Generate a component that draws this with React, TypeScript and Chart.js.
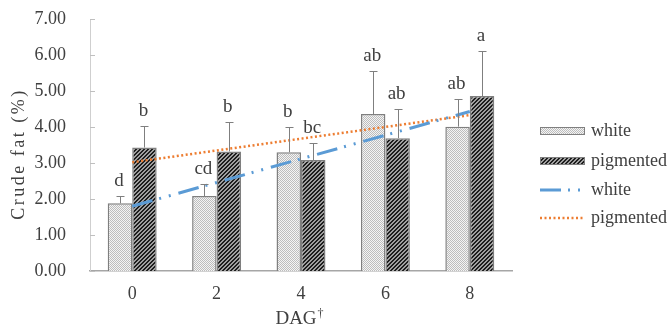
import React, { useEffect, useRef } from "react";
import { Chart, registerables } from "chart.js";

Chart.register(...registerables);

const categories = ["0", "2", "4", "6", "8"];
const whiteMeans = [1.88, 2.08, 3.3, 4.36, 4.01];
const whiteErr = [0.21, 0.33, 0.69, 1.19, 0.77];
const pigMeans = [3.43, 3.32, 3.08, 3.69, 4.86];
const pigErr = [0.61, 0.81, 0.48, 0.8, 1.24];
const whiteLetters = ["d", "cd", "b", "ab", "ab"];
const pigLetters = ["b", "b", "bc", "ab", "a"];
const whiteTrend = [1.8, null, null, null, 4.43];
const pigTrend = [3.02, null, null, null, 4.33];
const legendLabels = ["white", "pigmented", "white", "pigmented"];
const yTitle = "Crude fat (%)";
const xTitle = "DAG";

const FONT = "'Liberation Serif', 'Times New Roman', serif";
const TEXT = "#404040";
const BLUE = "#5b9bd5";
const ORANGE = "#ed7d31";
const BLUE_DASH = [21, 7, 2, 8, 2, 8];
const ORANGE_DASH = [2, 2.5];

function makeWhitePattern(ctx: CanvasRenderingContext2D) {
  const c = document.createElement("canvas");
  c.width = 2;
  c.height = 2;
  const g = c.getContext("2d")!;
  g.fillStyle = "#f4f4f4";
  g.fillRect(0, 0, 2, 2);
  g.fillStyle = "#bdbdbd";
  g.fillRect(0, 0, 1, 1);
  g.fillRect(1, 1, 1, 1);
  return ctx.createPattern(c, "repeat")!;
}

function makePigPattern(ctx: CanvasRenderingContext2D) {
  const c = document.createElement("canvas");
  c.width = 4;
  c.height = 4;
  const g = c.getContext("2d")!;
  for (let x = 0; x < 4; x++) {
    for (let y = 0; y < 4; y++) {
      const k = (x + y) % 4;
      g.fillStyle = k === 0 || k === 1 ? "#1e1e1e" : "#a0a0a0";
      g.fillRect(x, y, 1, 1);
    }
  }
  return ctx.createPattern(c, "repeat")!;
}

export default function App() {
  const ref = useRef<HTMLCanvasElement | null>(null);

  useEffect(() => {
    const canvas = ref.current!;
    const ctx0 = canvas.getContext("2d")!;
    const whitePat = makeWhitePattern(ctx0);
    const pigPat = makePigPattern(ctx0);

    const overlay = {
      id: "overlay",
      afterDatasetsDraw(chart: any) {
        const ctx = chart.ctx;
        const y = chart.scales.y;
        const sets = [
          { idx: 0, means: whiteMeans, errs: whiteErr, letters: whiteLetters },
          { idx: 1, means: pigMeans, errs: pigErr, letters: pigLetters },
        ];
        ctx.save();
        for (const s of sets) {
          const meta = chart.getDatasetMeta(s.idx);
          meta.data.forEach((bar: any, i: number) => {
            const top = y.getPixelForValue(s.means[i] + s.errs[i]);
            const base = y.getPixelForValue(s.means[i]);
            ctx.strokeStyle = "#7f7f7f";
            ctx.lineWidth = 1;
            ctx.setLineDash([]);
            ctx.beginPath();
            ctx.moveTo(Math.round(bar.x) + 0.5, base);
            ctx.lineTo(Math.round(bar.x) + 0.5, Math.round(top) + 0.5);
            ctx.moveTo(Math.round(bar.x) - 3.5, Math.round(top) + 0.5);
            ctx.lineTo(Math.round(bar.x) + 4.5, Math.round(top) + 0.5);
            ctx.stroke();
            ctx.fillStyle = TEXT;
            ctx.font = `19px ${FONT}`;
            ctx.textAlign = "center";
            ctx.textBaseline = "alphabetic";
            ctx.fillText(s.letters[i], bar.x - 1, top - 10);
          });
        }
        ctx.restore();
      },
      afterDraw(chart: any) {
        const ctx = chart.ctx;
        const area = chart.chartArea;
        const y = chart.scales.y;
        ctx.save();
        // inward y ticks
        ctx.strokeStyle = "#bfbfbf";
        ctx.lineWidth = 1;
        y.ticks.forEach((t: any) => {
          const py = Math.round(y.getPixelForValue(t.value)) + 0.5;
          ctx.beginPath();
          ctx.moveTo(area.left, py);
          ctx.lineTo(area.left + 5, py);
          ctx.stroke();
        });
        // y title
        ctx.fillStyle = TEXT;
        ctx.font = `18px ${FONT}`;
        (ctx as any).letterSpacing = "2.5px";
        ctx.translate(24, 154);
        ctx.rotate(-Math.PI / 2);
        ctx.textAlign = "center";
        ctx.textBaseline = "alphabetic";
        ctx.fillText(yTitle, 0, 0);
        ctx.restore();

        ctx.save();
        ctx.fillStyle = TEXT;
        ctx.font = `19px ${FONT}`;
        ctx.textAlign = "left";
        ctx.textBaseline = "alphabetic";
        const w = ctx.measureText(xTitle).width;
        const x0 = 300 - (w + 8) / 2;
        ctx.fillText(xTitle, x0, 324);
        ctx.font = `12px ${FONT}`;
        ctx.fillText("\u2020", x0 + w + 1, 317);

        // legend
        const lx = 540;
        const rows = [131, 161, 190, 218];
        ctx.font = `18px ${FONT}`;
        ctx.textBaseline = "middle";
        ctx.fillStyle = TEXT;
        rows.forEach((ry, i) => {
          ctx.fillText(legendLabels[i], 591, ry);
        });
        ctx.strokeStyle = "#7f7f7f";
        ctx.lineWidth = 1;
        ctx.fillStyle = whitePat;
        ctx.fillRect(lx, rows[0] - 4, 45, 8);
        ctx.strokeRect(lx + 0.5, rows[0] - 3.5, 44, 7);
        ctx.fillStyle = pigPat;
        ctx.fillRect(lx, rows[1] - 4, 45, 8);
        ctx.strokeRect(lx + 0.5, rows[1] - 3.5, 44, 7);
        ctx.lineWidth = 3;
        ctx.strokeStyle = BLUE;
        ctx.setLineDash(BLUE_DASH);
        ctx.beginPath();
        ctx.moveTo(lx, rows[2]);
        ctx.lineTo(lx + 45, rows[2]);
        ctx.stroke();
        ctx.lineWidth = 2.5;
        ctx.strokeStyle = ORANGE;
        ctx.setLineDash(ORANGE_DASH);
        ctx.beginPath();
        ctx.moveTo(lx, rows[3]);
        ctx.lineTo(lx + 45, rows[3]);
        ctx.stroke();
        ctx.restore();
      },
    };

    const chart = new Chart(canvas, {
      type: "bar",
      data: {
        labels: categories,
        datasets: [
          {
            type: "bar",
            label: "white",
            data: whiteMeans,
            backgroundColor: whitePat,
            borderColor: "#7f7f7f",
            borderWidth: 1.5,
            categoryPercentage: 0.58,
            barPercentage: 1,
            order: 2,
          },
          {
            type: "bar",
            label: "pigmented",
            data: pigMeans,
            backgroundColor: pigPat,
            borderColor: "#7f7f7f",
            borderWidth: 1.5,
            categoryPercentage: 0.58,
            barPercentage: 1,
            order: 2,
          },
          {
            type: "line",
            label: "white",
            data: whiteTrend as any,
            borderColor: BLUE,
            borderWidth: 3,
            borderDash: BLUE_DASH,
            pointRadius: 0,
            spanGaps: true,
            fill: false,
            order: 0,
          },
          {
            type: "line",
            label: "pigmented",
            data: pigTrend as any,
            borderColor: ORANGE,
            borderWidth: 2.5,
            borderDash: ORANGE_DASH,
            pointRadius: 0,
            spanGaps: true,
            fill: false,
            order: 0,
          },
        ] as any,
      },
      options: {
        animation: false,
        responsive: false,
        layout: { padding: { top: 19, right: 159, left: 0, bottom: 0 } },
        plugins: {
          legend: { display: false },
          tooltip: { enabled: false },
        },
        scales: {
          x: {
            offset: true,
            grid: { display: false, drawTicks: false },
            border: { display: true, color: "#a6a6a6", width: 1.5 },
            ticks: { color: TEXT, font: { family: FONT, size: 18 }, padding: 12 },
            afterFit: (s: any) => {
              s.height = 57;
            },
          },
          y: {
            min: 0,
            max: 7,
            ticks: {
              stepSize: 1,
              color: TEXT,
              font: { family: FONT, size: 18 },
              padding: 24,
              callback: (v: any) => Number(v).toFixed(2),
            },
            grid: { display: false, drawTicks: false },
            border: { display: true, color: "#cfcfcf", width: 1 },
            afterFit: (s: any) => {
              s.width = 90;
              s.paddingTop = 0;
              s.paddingBottom = 0;
            },
          },
        },
      },
      plugins: [overlay],
    } as any);

    return () => chart.destroy();
  }, []);

  return (
    <div style={{ position: "absolute", left: 0, top: 0, width: 671, height: 328, background: "#fff" }}>
      <canvas ref={ref} width={671} height={328} style={{ display: "block" }} />
    </div>
  );
}
